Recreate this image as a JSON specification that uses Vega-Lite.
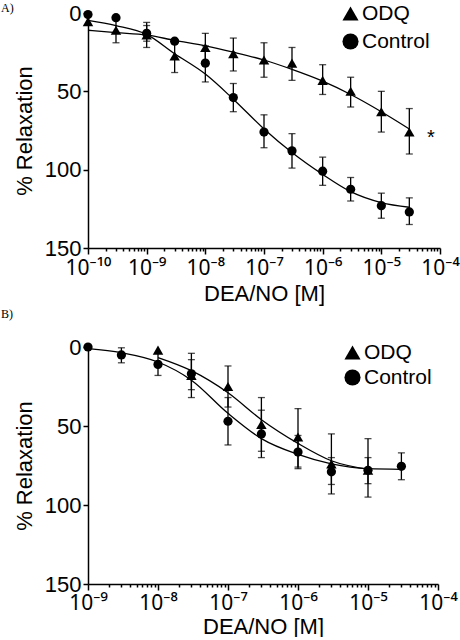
{
  "$schema": "https://vega.github.io/schema/vega-lite/v6.json",
  "background": "white",
  "padding": {"left": 1, "top": 2, "right": 0, "bottom": 0},
  "config": {
    "font": "Liberation Sans",
    "view": {"stroke": null},
    "axis": {"domainColor": "black", "tickColor": "black", "labelColor": "black", "titleColor": "black", "labelFontSize": 22, "titleFontSize": 22, "titleFontWeight": "normal", "domainWidth": 1.5, "tickWidth": 1.5, "grid": false, "labelFont": "Liberation Sans", "titleFont": "Liberation Sans"},
    "title": {"font": "Liberation Serif", "fontSize": 12, "fontWeight": "normal", "anchor": "start", "frame": "group", "color": "black"}
  },
  "datasets": {
    "ptsA": [
      {"series": "ODQ", "x": 1e-10, "y": 5.5, "lo": null, "hi": null},
      {"series": "ODQ", "x": 3e-10, "y": 11, "lo": 3, "hi": 19},
      {"series": "ODQ", "x": 1e-9, "y": 14, "lo": 6, "hi": 22},
      {"series": "ODQ", "x": 3e-9, "y": 27.5, "lo": 18, "hi": 38},
      {"series": "ODQ", "x": 1e-8, "y": 22, "lo": 13, "hi": 32},
      {"series": "ODQ", "x": 3e-8, "y": 26, "lo": 16, "hi": 37},
      {"series": "ODQ", "x": 1e-7, "y": 30, "lo": 19, "hi": 41},
      {"series": "ODQ", "x": 3e-7, "y": 32, "lo": 22, "hi": 43},
      {"series": "ODQ", "x": 1e-6, "y": 43, "lo": 33, "hi": 52},
      {"series": "ODQ", "x": 3e-6, "y": 50, "lo": 41, "hi": 60},
      {"series": "ODQ", "x": 1e-5, "y": 63, "lo": 50, "hi": 76},
      {"series": "ODQ", "x": 3e-5, "y": 76, "lo": 61, "hi": 90},
      {"series": "Control", "x": 1e-10, "y": 1, "lo": null, "hi": null},
      {"series": "Control", "x": 3e-10, "y": 3, "lo": null, "hi": null},
      {"series": "Control", "x": 1e-9, "y": 13, "lo": 8, "hi": 18},
      {"series": "Control", "x": 3e-9, "y": 18, "lo": null, "hi": null},
      {"series": "Control", "x": 1e-8, "y": 32, "lo": 21, "hi": 44},
      {"series": "Control", "x": 3e-8, "y": 54, "lo": 45, "hi": 63},
      {"series": "Control", "x": 1e-7, "y": 76, "lo": 65, "hi": 86},
      {"series": "Control", "x": 3e-7, "y": 88, "lo": 77, "hi": 99},
      {"series": "Control", "x": 1e-6, "y": 101, "lo": 92, "hi": 110},
      {"series": "Control", "x": 3e-6, "y": 112.5, "lo": 105, "hi": 120},
      {"series": "Control", "x": 1e-5, "y": 123, "lo": 115, "hi": 131},
      {"series": "Control", "x": 3e-5, "y": 127, "lo": 118, "hi": 135}
    ],
    "curveA": [
      {"series": "Control", "x": 1e-10, "y": 4.7},
      {"series": "Control", "x": 3e-10, "y": 8},
      {"series": "Control", "x": 1e-9, "y": 13.6},
      {"series": "Control", "x": 3e-9, "y": 26},
      {"series": "Control", "x": 1e-8, "y": 39},
      {"series": "Control", "x": 3e-8, "y": 55},
      {"series": "Control", "x": 1e-7, "y": 74},
      {"series": "Control", "x": 3e-7, "y": 89},
      {"series": "Control", "x": 1e-6, "y": 103},
      {"series": "Control", "x": 3e-6, "y": 114},
      {"series": "Control", "x": 1e-5, "y": 121},
      {"series": "Control", "x": 3e-5, "y": 124},
      {"series": "ODQ", "x": 1e-10, "y": 11},
      {"series": "ODQ", "x": 3e-10, "y": 12.5},
      {"series": "ODQ", "x": 1e-9, "y": 14},
      {"series": "ODQ", "x": 3e-9, "y": 17.5},
      {"series": "ODQ", "x": 1e-8, "y": 21},
      {"series": "ODQ", "x": 3e-8, "y": 25},
      {"series": "ODQ", "x": 1e-7, "y": 30},
      {"series": "ODQ", "x": 3e-7, "y": 36},
      {"series": "ODQ", "x": 1e-6, "y": 43.5},
      {"series": "ODQ", "x": 3e-6, "y": 52},
      {"series": "ODQ", "x": 1e-5, "y": 63},
      {"series": "ODQ", "x": 3e-5, "y": 74}
    ],
    "ptsB": [
      {"series": "Control", "x": 1e-9, "y": 0, "lo": null, "hi": null},
      {"series": "Control", "x": 3e-9, "y": 5, "lo": 0.5, "hi": 10},
      {"series": "Control", "x": 1e-8, "y": 11, "lo": 4, "hi": 18},
      {"series": "Control", "x": 3e-8, "y": 17, "lo": 8, "hi": 27},
      {"series": "Control", "x": 1e-7, "y": 47, "lo": 32, "hi": 62},
      {"series": "Control", "x": 3e-7, "y": 55, "lo": 40, "hi": 70},
      {"series": "Control", "x": 1e-6, "y": 66.5, "lo": 56, "hi": 77},
      {"series": "Control", "x": 3e-6, "y": 79, "lo": 70, "hi": 87},
      {"series": "Control", "x": 1e-5, "y": 78, "lo": 70, "hi": 86.5},
      {"series": "Control", "x": 3e-5, "y": 75.5, "lo": 67, "hi": 84},
      {"series": "ODQ", "x": 1e-8, "y": 2, "lo": null, "hi": null},
      {"series": "ODQ", "x": 3e-8, "y": 18, "lo": 4, "hi": 32},
      {"series": "ODQ", "x": 1e-7, "y": 25, "lo": 12, "hi": 38},
      {"series": "ODQ", "x": 3e-7, "y": 49, "lo": 32, "hi": 66},
      {"series": "ODQ", "x": 1e-6, "y": 57, "lo": 39, "hi": 76},
      {"series": "ODQ", "x": 3e-6, "y": 74, "lo": 55, "hi": 93},
      {"series": "ODQ", "x": 1e-5, "y": 78, "lo": 58, "hi": 95}
    ],
    "curveB": [
      {"series": "Control", "x": 1e-9, "y": 1},
      {"series": "Control", "x": 3e-9, "y": 3.6},
      {"series": "Control", "x": 1e-8, "y": 9.5},
      {"series": "Control", "x": 3e-8, "y": 21},
      {"series": "Control", "x": 1e-7, "y": 42},
      {"series": "Control", "x": 3e-7, "y": 58},
      {"series": "Control", "x": 1e-6, "y": 68},
      {"series": "Control", "x": 3e-6, "y": 74},
      {"series": "Control", "x": 1e-5, "y": 77},
      {"series": "Control", "x": 3e-5, "y": 77.4},
      {"series": "ODQ", "x": 1e-8, "y": 6.7},
      {"series": "ODQ", "x": 3e-8, "y": 15},
      {"series": "ODQ", "x": 1e-7, "y": 29},
      {"series": "ODQ", "x": 3e-7, "y": 46},
      {"series": "ODQ", "x": 1e-6, "y": 61},
      {"series": "ODQ", "x": 3e-6, "y": 72},
      {"series": "ODQ", "x": 1e-5, "y": 77.4}
    ]
  },
  "resolve": {"scale": {"x": "independent", "y": "independent", "shape": "independent"}, "legend": {"shape": "independent"}},
  "spacing": 4,
  "vconcat": [
    {
      "title": {"text": "A)", "dx": -87, "offset": -13},
      "width": 352,
      "height": 235,
      "encoding": {
        "x": {"field": "x", "type": "quantitative", "title": "DEA/NO [M]",
          "scale": {"type": "log", "domain": [1e-10, 1e-4]},
          "axis": {
            "values": [1e-10, 2e-10, 3e-10, 4e-10, 5e-10, 6e-10, 7e-10, 8e-10, 9e-10, 1e-9, 2e-9, 3e-9, 4e-9, 5e-9, 6e-9, 7e-9, 8e-9, 9e-9, 1e-8, 2e-8, 3e-8, 4e-8, 5e-8, 6e-8, 7e-8, 8e-8, 9e-8, 1e-7, 2e-7, 3e-7, 4e-7, 5e-7, 6e-7, 7e-7, 8e-7, 9e-7, 1e-6, 2e-6, 3e-6, 4e-6, 5e-6, 6e-6, 7e-6, 8e-6, 9e-6, 1e-5, 2e-5, 3e-5, 4e-5, 5e-5, 6e-5, 7e-5, 8e-5, 9e-5, 1e-4],
            "labelExpr": "abs(log(datum.value)/LN10 - round(log(datum.value)/LN10)) < 0.001 ? '10' + replace(replace(replace(replace(replace(replace(replace(replace(replace(toString(round(log(datum.value)/LN10)),'-','⁻'),'0','⁰'),'1','¹'),'4','⁴'),'5','⁵'),'6','⁶'),'7','⁷'),'8','⁸'),'9','⁹') : ''",
            "tickSize": {"condition": {"test": "abs(log(datum.value)/LN10 - round(log(datum.value)/LN10)) < 0.001", "value": 6}, "value": 3},
            "labelFont": "Noto Sans", "labelFontSize": 21,
            "labelFlush": false, "labelOverlap": false, "labelPadding": 3, "titlePadding": 5
          }
        },
        "y": {"field": "y", "type": "quantitative", "title": "% Relaxation",
          "scale": {"domain": [0, 150], "reverse": true},
          "axis": {"values": [0, 50, 100, 150], "tickSize": 5, "labelPadding": 2, "titlePadding": 8}
        }
      },
      "layer": [
        {"data": {"name": "curveA"}, "mark": {"type": "line", "interpolate": "monotone", "color": "black", "strokeWidth": 1.3}, "encoding": {"detail": {"field": "series"}}},
        {"data": {"name": "ptsA"}, "transform": [{"filter": "datum.lo != null"}],
          "mark": {"type": "errorbar", "ticks": {"size": 7}, "thickness": 1.3, "color": "black"},
          "encoding": {"y": {"field": "lo", "type": "quantitative", "title": "% Relaxation"}, "y2": {"field": "hi"}}},
        {"data": {"name": "ptsA"},
          "mark": {"type": "point", "filled": true, "opacity": 1, "color": "black"},
          "encoding": {
            "size": {"condition": {"test": "datum.series == 'ODQ'", "value": 110}, "value": 85},
            "shape": {"field": "series", "type": "nominal", "scale": {"domain": ["ODQ", "Control"], "range": ["triangle-up", "circle"]},
              "legend": {"orient": "none", "legendX": 252, "legendY": -10, "title": null, "labelFontSize": 21, "labelColor": "black", "symbolSize": 260, "symbolFillColor": "black", "symbolStrokeColor": "black", "symbolStrokeWidth": 0, "rowPadding": 6, "labelOffset": 1}}
          }},
        {"data": {"values": [{"x": 7e-5, "y": 80, "t": "*"}]},
          "mark": {"type": "text", "fontSize": 20, "baseline": "middle", "color": "black"},
          "encoding": {"text": {"field": "t"}}}
      ]
    },
    {
      "title": {"text": "B)", "dx": -87, "offset": 15},
      "width": 350,
      "height": 237,
      "encoding": {
        "x": {"field": "x", "type": "quantitative", "title": "DEA/NO [M]",
          "scale": {"type": "log", "domain": [1e-9, 1e-4]},
          "axis": {
            "values": [1e-9, 2e-9, 3e-9, 4e-9, 5e-9, 6e-9, 7e-9, 8e-9, 9e-9, 1e-8, 2e-8, 3e-8, 4e-8, 5e-8, 6e-8, 7e-8, 8e-8, 9e-8, 1e-7, 2e-7, 3e-7, 4e-7, 5e-7, 6e-7, 7e-7, 8e-7, 9e-7, 1e-6, 2e-6, 3e-6, 4e-6, 5e-6, 6e-6, 7e-6, 8e-6, 9e-6, 1e-5, 2e-5, 3e-5, 4e-5, 5e-5, 6e-5, 7e-5, 8e-5, 9e-5, 1e-4],
            "labelExpr": "abs(log(datum.value)/LN10 - round(log(datum.value)/LN10)) < 0.001 ? '10' + replace(replace(replace(replace(replace(replace(replace(replace(replace(toString(round(log(datum.value)/LN10)),'-','⁻'),'0','⁰'),'1','¹'),'4','⁴'),'5','⁵'),'6','⁶'),'7','⁷'),'8','⁸'),'9','⁹') : ''",
            "tickSize": {"condition": {"test": "abs(log(datum.value)/LN10 - round(log(datum.value)/LN10)) < 0.001", "value": 6}, "value": 3},
            "labelFont": "Noto Sans", "labelFontSize": 21,
            "labelFlush": false, "labelOverlap": false, "labelPadding": 2, "titlePadding": 3
          }
        },
        "y": {"field": "y", "type": "quantitative", "title": "% Relaxation",
          "scale": {"domain": [0, 150], "reverse": true},
          "axis": {"values": [0, 50, 100, 150], "tickSize": 5, "labelPadding": 2, "titlePadding": 8}
        }
      },
      "layer": [
        {"data": {"name": "curveB"}, "mark": {"type": "line", "interpolate": "monotone", "color": "black", "strokeWidth": 1.3}, "encoding": {"detail": {"field": "series"}}},
        {"data": {"name": "ptsB"}, "transform": [{"filter": "datum.lo != null"}],
          "mark": {"type": "errorbar", "ticks": {"size": 7}, "thickness": 1.3, "color": "black"},
          "encoding": {"y": {"field": "lo", "type": "quantitative", "title": "% Relaxation"}, "y2": {"field": "hi"}}},
        {"data": {"name": "ptsB"},
          "mark": {"type": "point", "filled": true, "opacity": 1, "color": "black"},
          "encoding": {
            "size": {"condition": {"test": "datum.series == 'ODQ'", "value": 110}, "value": 85},
            "shape": {"field": "series", "type": "nominal", "scale": {"domain": ["ODQ", "Control"], "range": ["triangle-up", "circle"]},
              "legend": {"orient": "none", "legendX": 254, "legendY": -5, "title": null, "labelFontSize": 21, "labelColor": "black", "symbolSize": 260, "symbolFillColor": "black", "symbolStrokeColor": "black", "symbolStrokeWidth": 0, "rowPadding": 3, "labelOffset": 1}}
          }}
      ]
    }
  ]
}
